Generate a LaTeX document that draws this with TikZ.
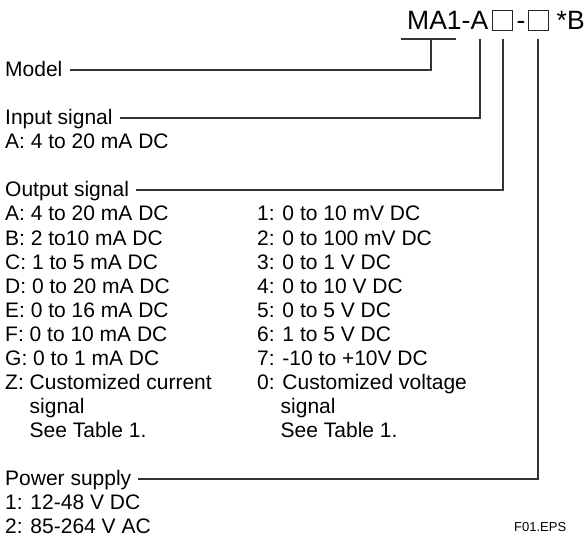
\documentclass[tikz,border=0pt]{standalone}
\usepackage{fontspec}
\setmainfont{Liberation Sans}
\begin{document}
\begin{tikzpicture}[x=1bp,y=-1bp,
  lbl/.style={anchor=base west,inner sep=0pt,font=\fontsize{21bp}{24bp}\selectfont},
  ttl/.style={anchor=base west,inner sep=0pt,font=\fontsize{26.5bp}{30bp}\selectfont},
  sqbox/.style={draw=black!85,line width=1bp,minimum size=20bp,inner sep=0pt},
  conn/.style={draw=black!80,line width=1.1bp}]
\useasboundingbox (0,0) rectangle (585,536);
% title
\node[ttl] (t1) at (407,30) {MA1-A};
\node[sqbox] (sq1) at (502.5,21) {};
\node[ttl] (dash) at (516.5,30) {-};
\node[sqbox] (sq2) at (538,21) {};
\node[ttl] (tB) at (556.5,30) {*B};
% turn coordinates
\coordinate (ulL) at (401,39);
\coordinate (ulR) at (456,39);
\coordinate (mtop) at (431,39);
\coordinate (mturn) at (431,70);
\coordinate (itop) at (480,39);
\coordinate (iturn) at (480,118);
\coordinate (otop) at (503,39);
\coordinate (oturn) at (503,190);
\coordinate (ptop) at (538,39);
\coordinate (pturn) at (538,479);
% left column
\node[lbl] (model) at (5,77) {Model};
\node[lbl] (input) at (5,125) {Input signal};
\node[lbl] at (5,149) {A: 4 to 20 mA DC};
\node[lbl] (output) at (5,197) {Output signal};
\node[lbl] at (5,221) {A: 4 to 20 mA DC};
\node[lbl] at (5,245) {B: 2 to10 mA DC};
\node[lbl] at (5,269) {C: 1 to 5 mA DC};
\node[lbl] at (5,293) {D: 0 to 20 mA DC};
\node[lbl] at (5,317) {E: 0 to 16 mA DC};
\node[lbl] at (5,341) {F: 0 to 10 mA DC};
\node[lbl] at (5,365) {G: 0 to 1 mA DC};
\node[lbl] at (5,389) {Z: Customized current};
\node[lbl] at (29.5,413) {signal};
\node[lbl] at (29.5,437) {See Table 1.};
% right column
\node[lbl] at (257,221) {1: 0 to 10 mV DC};
\node[lbl] at (257,245) {2: 0 to 100 mV DC};
\node[lbl] at (257,269) {3: 0 to 1 V DC};
\node[lbl] at (257,293) {4: 0 to 10 V DC};
\node[lbl] at (257,317) {5: 0 to 5 V DC};
\node[lbl] at (257,341) {6: 1 to 5 V DC};
\node[lbl] at (257,365) {7: -10 to +10V DC};
\node[lbl] at (257,389) {0: Customized voltage};
\node[lbl] at (280.5,413) {signal};
\node[lbl] at (280.5,437) {See Table 1.};
% power supply
\node[lbl] (power) at (5,485) {Power supply};
\node[lbl] at (5,509) {1: 12-48 V DC};
\node[lbl] at (5,533) {2: 85-264 V AC};
\node[anchor=base west,inner sep=0pt,font=\fontsize{13bp}{15bp}\selectfont] (fig) at (514,531) {F01.EPS};
% connectors
\draw[conn] (ulL) -- (ulR);
\draw[conn] ([xshift=7bp]model.east |- mturn) -- (mturn) -- (mtop);
\draw[conn] ([xshift=7bp]input.east |- iturn) -- (iturn) -- (itop);
\draw[conn] ([xshift=7bp]output.east |- oturn) -- (oturn) -- (otop);
\draw[conn] ([xshift=7bp]power.east |- pturn) -- (pturn) -- (ptop);
\end{tikzpicture}
\end{document}
